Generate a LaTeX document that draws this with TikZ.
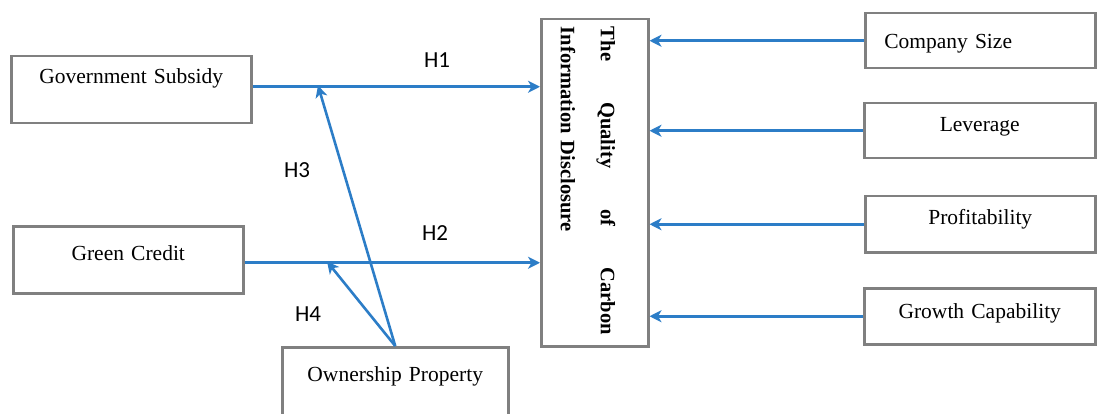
\documentclass[tikz,border=0pt]{standalone}
\usepackage{fontspec}
\setmainfont{Liberation Serif}
\newfontfamily\hfont{Carlito}
\usetikzlibrary{arrows.meta}
\definecolor{lineblue}{RGB}{44,125,199}
\definecolor{boxgray}{RGB}{128,128,128}
\newcommand\myboxfont{\fontsize{21.5}{26}\selectfont\spaceskip=3.5pt plus 2pt minus 1pt\relax}
\begin{document}
\begin{tikzpicture}[x=1pt,y=-1pt,
  box/.style={draw=boxgray,line width=2.5pt,inner sep=0pt,align=center,anchor=north west,
    font=\myboxfont},
  conn/.style={draw=lineblue,line width=2.6pt,-{Stealth[length=12pt,width=12pt,inset=3.5pt]}},
  hlab/.style={font=\hfont\fontsize{23}{28}\selectfont,inner sep=0pt}]
\useasboundingbox (0,0) rectangle (1097,414);
\clip (0,0) rectangle (1097,414);
% left boxes
\node[box,text width=240pt,text height=27pt,text depth=40pt] (gov) at (10,55) {Government Subsidy};
\node[box,text width=230pt,text height=34pt,text depth=33pt] (gc) at (12,225) {Green Credit};
\node[box,text width=226pt,text height=34pt,text depth=70pt] (own) at (281,346) {Ownership Property};
% central box
\node[box,minimum width=107pt,minimum height=327pt] (qual) at (540,18) {};
\node[rotate=-90,inner sep=0pt,text width=308pt,align=left,
  font=\bfseries\fontsize{20.5}{40}\selectfont] (qtext) at (588,181)
  {\hbox to 308pt{The\hfill Quality\hfill of\hfill Carbon}\\Information Disclosure};
% right boxes
\node[box,text width=230pt,align=left,text height=35pt,text depth=20pt] (cs) at (864,12) {\hspace*{19pt}Company Size};
\node[box,text width=231pt,text height=28pt,text depth=27pt] (lev) at (863,102) {Leverage};
\node[box,text width=230pt,text height=28pt,text depth=28pt] (prof) at (864,195) {Profitability};
\node[box,text width=231pt,text height=30pt,text depth=26pt] (grow) at (863,287) {Growth Capability};
% junctions on the main paths
\coordinate (j1) at (318,85.5);
\coordinate (j2) at (327,261.5);
% connectors
\draw[conn] ([yshift=3pt]gov.east) -- ([yshift=3pt]gov.east -| qual.west);
\draw[conn] ([yshift=-3pt]gc.east) -- ([yshift=-3pt]gc.east -| qual.west);
\draw[conn] (own.north) -- (j1);
\draw[conn] (own.north) -- (j2);
\draw[conn] (cs.west) -- (cs.west -| qual.east);
\draw[conn] (lev.west) -- (lev.west -| qual.east);
\draw[conn] (prof.west) -- (prof.west -| qual.east);
\draw[conn] (grow.west) -- (grow.west -| qual.east);
% labels
\node[hlab] (h1) at (437,60) {H1};
\node[hlab] (h2) at (435,233) {H2};
\node[hlab] (h3) at (297,170) {H3};
\node[hlab] (h4) at (308,314) {H4};
\end{tikzpicture}
\end{document}
